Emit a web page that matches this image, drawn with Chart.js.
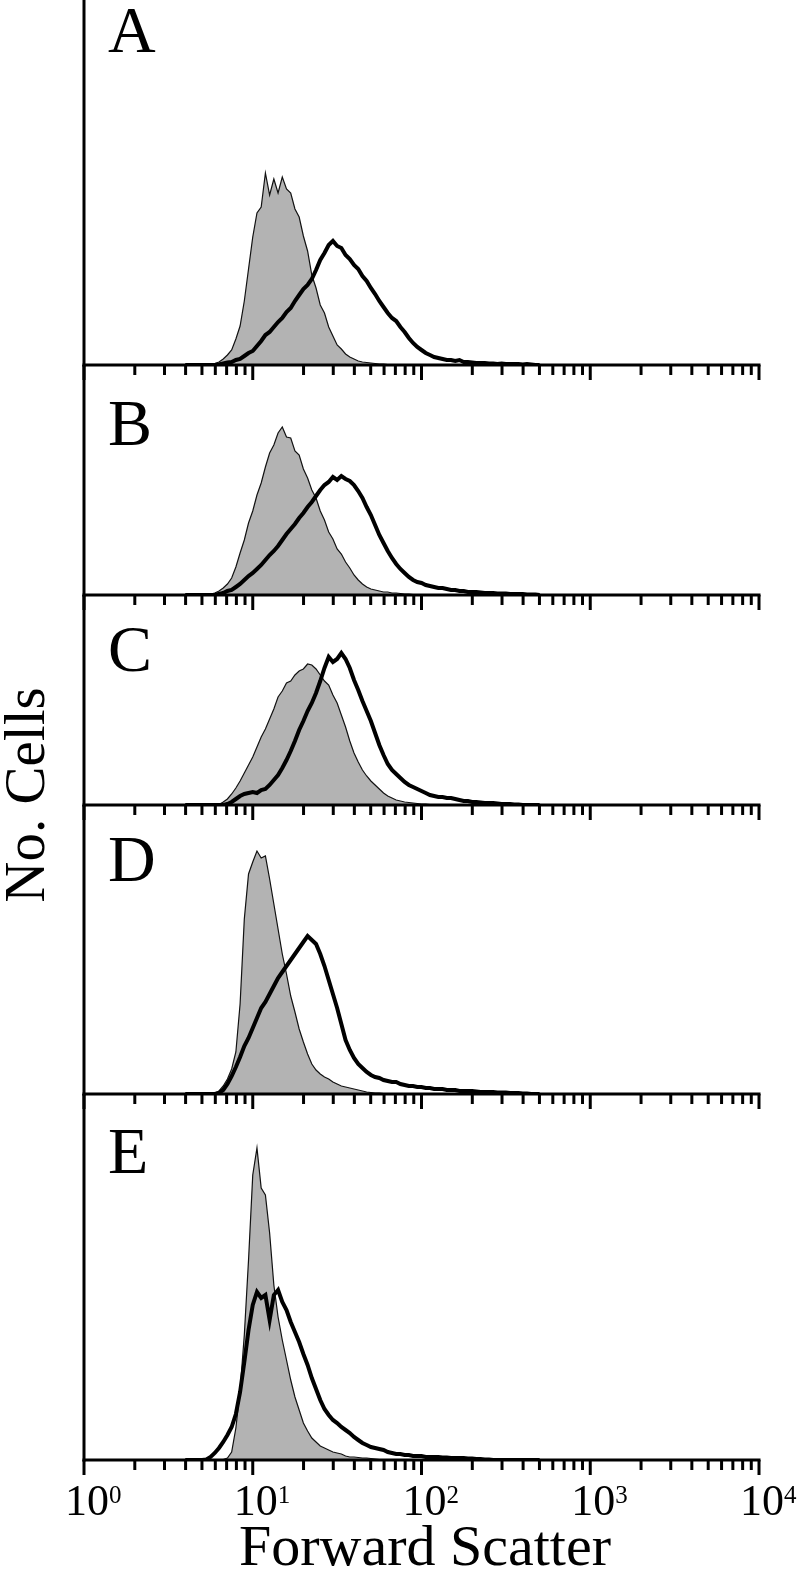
<!DOCTYPE html>
<html>
<head>
<meta charset="utf-8">
<script src="https://cdn.jsdelivr.net/npm/chart.js@4/dist/chart.umd.min.js"></script>
<style>
html,body{margin:0;padding:0;background:#fff;}
body{width:800px;height:1569px;position:relative;overflow:hidden;font-family:"Liberation Serif","Times New Roman",serif;}
.panel{position:absolute;left:0;width:800px;}
#ylab{position:absolute;left:-125px;top:765px;width:300px;height:60px;line-height:60px;text-align:center;font-size:57px;color:#000;transform:rotate(-90deg);transform-origin:150px 30px;white-space:nowrap;}
</style>
</head>
<body>
<div id="ylab">No. Cells</div>
<script>
// ---- data (log10 of forward scatter channel, histogram counts) ----
const fscLog = [
 0.600,0.625,0.650,0.675,0.700,0.725,0.750,0.775,0.800,0.825,
 0.850,0.875,0.900,0.925,0.950,0.975,1.000,1.025,1.050,1.075,
 1.100,1.125,1.150,1.175,1.200,1.225,1.250,1.275,1.300,1.325,
 1.350,1.375,1.400,1.425,1.450,1.475,1.500,1.525,1.550,1.575,
 1.600,1.625,1.650,1.675,1.700,1.725,1.750,1.775,1.800,1.825,
 1.850,1.875,1.900,1.925,1.950,1.975,2.000,2.025,2.050,2.075,
 2.100,2.125,2.150,2.175,2.200,2.225,2.250,2.275,2.300,2.325,
 2.350,2.375,2.400,2.425,2.450,2.475,2.500,2.525,2.550,2.575,
 2.600,2.625,2.650,2.675,2.700];

const panelLetters = ['A','B','C','D','E'];
const xTickPowers = [0,1,2,3,4];
const xTitle = 'Forward Scatter';

const grayA = [
 0,0,0,0,0,0,0.5,1.5,3,6,
 10,15,26,39,64,96,128,152,158,192,
 170,186,172,188,176,172,156,148,129,114,
 90,77,60,52,38,29,20,16,11,8,
 6,4,3,2.5,2,1.5,1,1,0.5,0.5,
 0.3,0.2,0,0,0,0,0,0,0,0,
 0,0,0,0,0,0,0,0,0,0,
 0,0,0,0,0,0,0,0,0,0,
 0,0,0,0,0];
const blackA = [
 0,0,0,0,0,0,0,0,0.5,1.5,
 2.5,3,5,6,9,12,14,19,24,30,
 33,38,43,47,53,57,64,70,76,80,
 86,95,105,112,120,124,119,117,110,106,
 100,96,89,84,77,71,64,58,52,47,
 44,38,33,27,22,18,15,12,10,8,
 7,6,5,5,4,5,3,3,2.5,2,
 2,2,1.5,1.5,1,1.5,1,1,1,1,
 0.5,1,0.5,0,0];

const grayB = [
 0,0,0,0,0,0,1,2,4,7,
 11,17,28,42,55,72,84,100,112,128,
 142,150,162,168,158,157,144,140,126,117,
 105,97,84,75,63,56,46,41,33,27,
 20,15,11,8,6,5,4,3,3,2,
 2,1.5,1,1,0.5,0.5,0.5,0.3,0,0,
 0,0,0,0,0,0,0,0,0,0,
 0,0,0,0,0,0,0,0,0,0,
 0,0,0,0,0];
const blackB = [
 0,0,0,0,0,0,0,0,1,2,
 4,5,8,11,15,19,22,26,30,35,
 40,44,49,55,61,66,71,77,82,88,
 93,99,105,110,113,118,115,119,116,114,
 110,104,97,88,80,70,60,52,44,37,
 31,26,22,18,15,13,12,10,9,8,
 7,7,6,5,5,4,4,3,3,3,
 2.5,2,2,2,1.5,1.5,1.5,1,1,1,
 1,0.5,0.5,0.5,0];

const grayC = [
 0,0,0,0,0,0,0,0,0.5,3,
 6,11,17,24,32,40,48,58,68,76,
 86,96,108,114,122,124,130,134,136,141,
 140,136,130,124,120,110,102,90,78,64,
 52,43,35,29,24,20,16,12,9,7,
 5,4,3,2.5,2,1.5,1,1,0.5,0.5,
 0,0,0,0,0,0,0,0,0,0,
 0,0,0,0,0,0,0,0,0,0,
 0,0,0,0,0];
const blackC = [
 0,0,0,0,0,0,0,0,0,0,
 1,3,6,9,11,12,13,12,15,16,
 20,25,30,37,45,54,64,75,84,94,
 102,112,124,137,148,143,146,152,146,137,
 125,115,104,94,84,72,60,50,41,35,
 31,27,23,20,18,16,14,12,10,9,
 8,8,7,7,6,5,4,4,3,3,
 2.5,2,2,2,1.5,1,1,1,0.5,0.5,
 0,0,0,0,0];

const grayD = [
 0,0,0,0,0,0,0,1,3,8,
 15,25,42,90,175,220,232,243,236,238,
 215,190,165,140,120,98,82,65,52,40,
 30,24,20,17,15,12,10,8,7,6,
 5,4,3,2,1.5,1,1,0.5,0.5,0,
 0,0,0,0,0,0,0,0,0,0,
 0,0,0,0,0,0,0,0,0,0,
 0,0,0,0,0,0,0,0,0,0,
 0,0,0,0,0];
const blackD = [
 0,0,0,0,0,0,0,0,1,4,
 10,18,27,37,48,56,66,76,86,92,
 100,108,116,122,128,134,140,146,152,158,
 154,150,140,128,114,100,86,70,54,44,
 36,30,26,22,19,17,16,14,13,12,
 12,10,9,8,8,7,7,6,6,5,
 5,5,4,4,4,3,3,3,3,2.5,
 2,2,2,2,1.5,1.5,1.5,1,1,1,
 0.5,0.5,0,0,0];

const grayE = [
 0,0,0,0,0,0,0,0,0,0.5,
 2,8,32,70,125,200,285,312,272,265,
 227,175,143,120,100,80,63,50,37,29,
 22,18,14,12,10,8,7,6,4,3,
 3,2.5,2,2,1.5,1,0.5,0.3,0,0,
 0,0,0,0,0,0,0,0,0,0,
 0,0,0,0,0,0,0,0,0,0,
 0,0,0,0,0,0,0,0,0,0,
 0,0,0,0,0];
const blackE = [
 0,0,0,0,0,0.5,3,7,12,18,
 25,33,46,68,98,130,155,168,162,165,
 140,165,170,158,150,138,128,118,106,95,
 82,71,60,51,45,40,37,33,30,27,
 23,20,17,15,13,12,11,10,8,7,
 6,6,5,5,4,4,4,3,3,3,
 3,2.5,2.5,2,2,2,2,1.5,1.5,1,
 1,0.5,0.5,0,0,0,0,0,0,0,
 0,0,0,0,0];

const graySeries = [grayA, grayB, grayC, grayD, grayE];
const blackSeries = [blackA, blackB, blackC, blackD, blackE];
const yMaxCounts = [365, 230, 210, 289, 366];

// ---- layout (pixels) ----
const panelTop = [0, 365, 595, 805, 1094];
const panelBase = [365, 595, 805, 1094, 1460];
const letterBaseline = [52, 445, 671, 881, 1173];
const PAGE_H = 1569;
const SERIF = '"Liberation Serif","Times New Roman",serif';

function toPoints(arr) {
  return arr.map((v, i) => ({ x: Math.pow(10, fscLog[i]), y: v }));
}

function makePanel(i) {
  const top = panelTop[i];
  const last = i === 4;
  const h = last ? PAGE_H - top : (panelBase[i] - top + 22);
  const padB = h - (panelBase[i] - top);
  const div = document.createElement('div');
  div.className = 'panel';
  div.style.top = top + 'px';
  div.style.height = h + 'px';
  const cv = document.createElement('canvas');
  cv.width = 800; cv.height = h;
  cv.style.width = '800px'; cv.style.height = h + 'px';
  div.appendChild(cv);
  document.body.appendChild(div);

  const decor = {
    id: 'decor' + i,
    afterDraw(chart) {
      const ctx = chart.ctx, a = chart.chartArea, xs = chart.scales.x;
      ctx.save();
      ctx.strokeStyle = '#000';
      ctx.lineWidth = 3;
      ctx.lineCap = 'butt';
      ctx.beginPath();
      ctx.moveTo(a.left, a.top);
      ctx.lineTo(a.left, a.bottom + 1.5);
      ctx.stroke();
      ctx.beginPath();
      ctx.moveTo(a.left - 1.5, a.bottom);
      ctx.lineTo(a.right + 1.5, a.bottom);
      ctx.stroke();
      for (let d = 0; d <= 4; d++) {
        for (let m = 1; m <= 9; m++) {
          if (d === 4 && m > 1) break;
          const v = m * Math.pow(10, d);
          const px = xs.getPixelForValue(v);
          const len = m === 1 ? 15 : 10;
          ctx.beginPath();
          ctx.moveTo(px, a.bottom);
          ctx.lineTo(px, a.bottom + len);
          ctx.stroke();
        }
      }
      ctx.fillStyle = '#000';
      ctx.font = '66px ' + SERIF;
      ctx.textAlign = 'left';
      ctx.textBaseline = 'alphabetic';
      ctx.fillText(panelLetters[i], 108, letterBaseline[i] - top);
      if (last) {
        xTickPowers.forEach(p => {
          const px = xs.getPixelForValue(Math.pow(10, p));
          ctx.font = '44px ' + SERIF;
          ctx.textAlign = 'left';
          const x0 = px - 19;
          ctx.fillText('10', x0, 1515 - top);
          const w = ctx.measureText('10').width;
          ctx.font = '25px ' + SERIF;
          ctx.fillText(String(p), x0 + w, 1503 - top);
        });
        ctx.font = '58px ' + SERIF;
        ctx.textAlign = 'center';
        ctx.fillText(xTitle, 425, 1565 - top);
      }
      ctx.restore();
    }
  };

  new Chart(cv, {
    type: 'line',
    data: {
      datasets: [
        {
          label: 'stained',
          data: toPoints(blackSeries[i]),
          borderColor: '#000',
          borderWidth: 4,
          fill: false,
          pointRadius: 0,
          tension: 0,
          order: 0
        },
        {
          label: 'control',
          data: toPoints(graySeries[i]),
          borderColor: '#111',
          borderWidth: 1.2,
          backgroundColor: '#b3b3b3',
          fill: 'origin',
          pointRadius: 0,
          tension: 0,
          order: 1
        }
      ]
    },
    options: {
      responsive: false,
      animation: false,
      events: [],
      layout: { padding: { left: 84, right: 41, top: 0, bottom: padB } },
      plugins: { legend: { display: false }, tooltip: { enabled: false } },
      scales: {
        x: { type: 'logarithmic', min: 1, max: 10000, display: false },
        y: { min: 0, max: yMaxCounts[i], display: false }
      }
    },
    plugins: [decor]
  });
}

for (let i = 0; i < 5; i++) makePanel(i);
</script>
</body>
</html>
